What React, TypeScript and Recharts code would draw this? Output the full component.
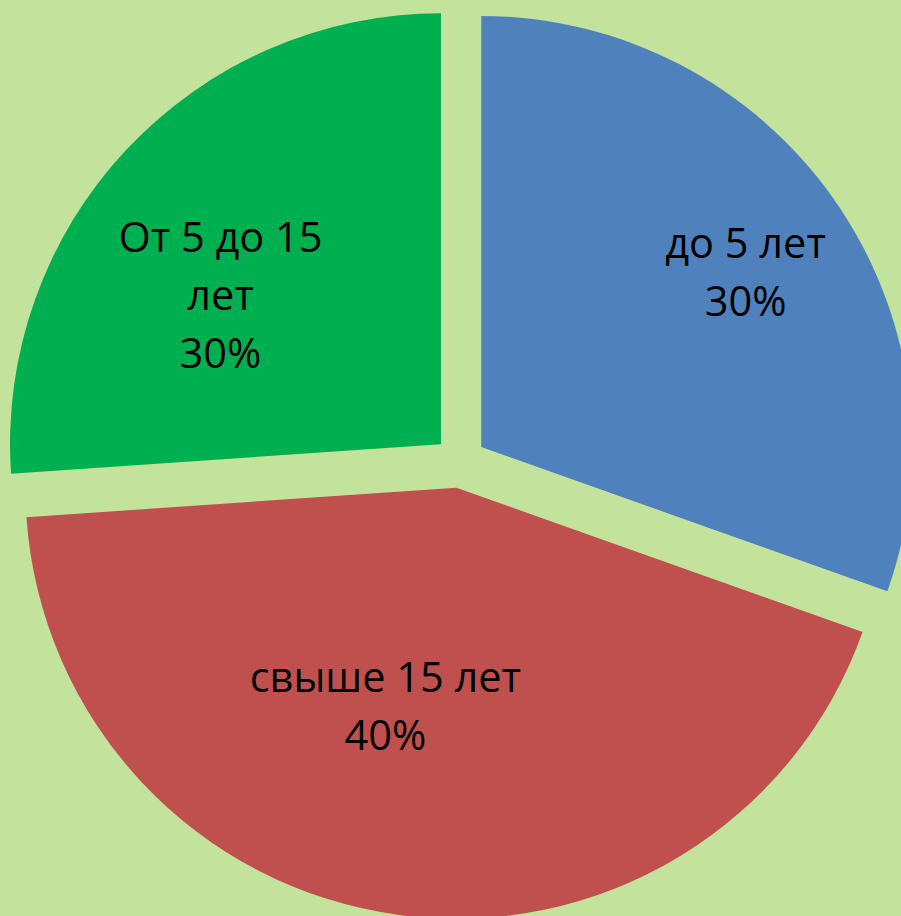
import React from "react";
import { PieChart, Pie, Cell } from "recharts";

// data
const categories = ["до 5 лет", "свыше 15 лет", "От 5 до 15 лет"];
const values = [7, 10, 6];
const percentLabels = ["30%", "40%", "30%"];

// styles / layout
const colors = ["#4F81BD", "#C0504D", "#00B050"];
const labelLayout = [
  { dist: 317, angle: 33.5, wrap: 20 },
  { dist: 230, angle: -108, wrap: 20 },
  { dist: 266, angle: 146, wrap: 10 },
];

const W = 901;
const H = 916;
const CX = 460;
const CY = 462;
const R = 431;
const EXPLODE = 26;
const START = 90;
const END = -270;
const FONT = 41.5;
const LINE = 58;
const RAD = Math.PI / 180;

const data = categories.map((name, i) => ({ name, value: values[i] }));
const total = values.reduce((a, b) => a + b, 0);

const midAngles = values.map((v, i) => {
  const before = values.slice(0, i).reduce((a, b) => a + b, 0);
  return START - ((before + v / 2) / total) * 360;
});

const centers = midAngles.map((m) => ({
  x: CX + EXPLODE * Math.cos(m * RAD),
  y: CY - EXPLODE * Math.sin(m * RAD),
}));

function wrapText(text: string, maxChars: number) {
  const words = text.split(" ");
  const lines: string[] = [];
  let cur = "";
  for (const w of words) {
    const next = cur ? cur + " " + w : w;
    if (next.length > maxChars && cur) {
      lines.push(cur);
      cur = w;
    } else {
      cur = next;
    }
  }
  if (cur) lines.push(cur);
  return lines;
}

function makeLabel(k: number) {
  return (props: any) => {
    if (props.index !== k) return null;
    const lay = labelLayout[k];
    const c = centers[k];
    const x = c.x + lay.dist * Math.cos(lay.angle * RAD);
    const y = c.y - lay.dist * Math.sin(lay.angle * RAD);
    const lines = [...wrapText(categories[k], lay.wrap), percentLabels[k]];
    const y0 = y - ((lines.length - 1) * LINE) / 2 + 14.5;
    return (
      <text
        key={`lbl-${k}`}
        x={x}
        y={y0}
        textAnchor="middle"
        fontFamily="'Open Sans', sans-serif"
        fontSize={FONT}
        fill="#000"
      >
        {lines.map((ln, i) => (
          <tspan key={i} x={x} y={y0 + i * LINE}>
            {ln}
          </tspan>
        ))}
      </text>
    );
  };
}

export default function App() {
  return (
    <div
      style={{
        position: "fixed",
        top: 0,
        left: 0,
        width: W,
        height: H,
        background: "#C3E29B",
        overflow: "hidden",
      }}
    >
      <PieChart width={W} height={H} margin={{ top: 0, right: 0, bottom: 0, left: 0 }}>
        {categories.map((_, k) => (
          <Pie
            key={k}
            data={data}
            dataKey="value"
            nameKey="name"
            cx={centers[k].x}
            cy={centers[k].y}
            outerRadius={R}
            innerRadius={0}
            startAngle={START}
            endAngle={END}
            stroke="none"
            label={makeLabel(k)}
            labelLine={false}
            isAnimationActive={false}
          >
            {data.map((_, i) => (
              <Cell key={i} fill={i === k ? colors[i] : "none"} stroke="none" />
            ))}
          </Pie>
        ))}
      </PieChart>
    </div>
  );
}
